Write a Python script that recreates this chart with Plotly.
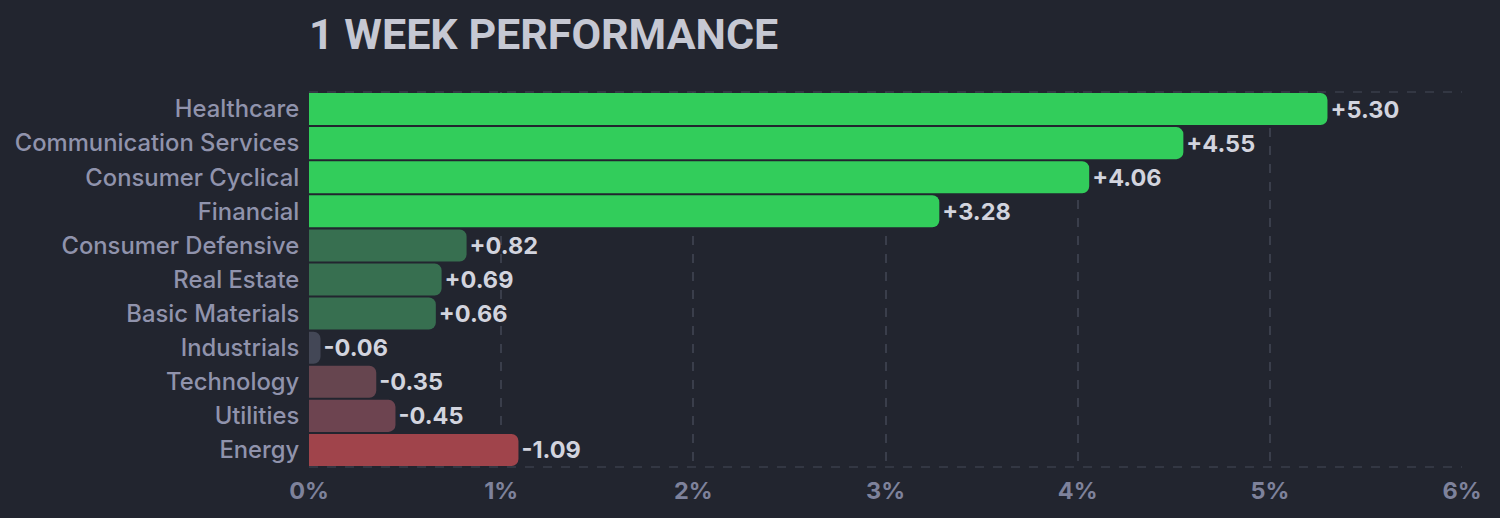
import plotly.graph_objects as go

# ---------------------------------------------------------------------------
# Data (1 week sector performance, %)
# ---------------------------------------------------------------------------
sectors = [
    "Healthcare", "Communication Services", "Consumer Cyclical", "Financial",
    "Consumer Defensive", "Real Estate", "Basic Materials", "Industrials",
    "Technology", "Utilities", "Energy",
]
changes = [5.30, 4.55, 4.06, 3.28, 0.82, 0.69, 0.66, -0.06, -0.35, -0.45, -1.09]
tick_vals = [0, 1, 2, 3, 4, 5, 6]
tick_text = ["0%", "1%", "2%", "3%", "4%", "5%", "6%"]

BG = "#22252f"
GRID = "#3a3e4b"
FONT = "Inter"


def bar_colour(v):
    # colour buckets, roughly like the finviz style
    if v >= 1:
        return "#32cd5b"
    if v >= 0.1:
        return "#376f50"
    if v > -0.1:
        return "#434756"
    if v > -1:
        return "#66454f" if v > -0.4 else "#6d4450"
    return "#a0444b"


lengths = [abs(v) for v in changes]
labels = [f"{v:+.2f}" for v in changes]
colours = [bar_colour(v) for v in changes]

fig = go.Figure(go.Bar(
    x=lengths,
    y=sectors,
    orientation="h",
    marker=dict(color=colours, cornerradius=7, line=dict(width=0)),
    text=labels,
    textposition="outside",
    textfont=dict(family=FONT, size=23.5, color="#d2d4de", weight="bold"),
    cliponaxis=False,
    hoverinfo="skip",
))

fig.update_layout(
    width=1500, height=518,
    paper_bgcolor=BG, plot_bgcolor=BG,
    margin=dict(l=309, r=38, t=92, b=51),
    bargap=0.06,
    showlegend=False,
    title=dict(
        text="<b>1 WEEK PERFORMANCE</b>",
        x=0, xanchor="left", xref="paper",
        y=1 - 34 / 518, yanchor="middle", yref="container",
        font=dict(family="Roboto", size=43, color="#c6c8d3"),
    ),
)

fig.update_xaxes(
    range=[0, 6],
    tickvals=tick_vals, ticktext=tick_text,
    showgrid=True, gridcolor=GRID, griddash="dash", gridwidth=1.5,
    zeroline=False,
    showline=False,
    tickfont=dict(family=FONT, size=23.5, color="#7e829b", weight="bold"),
    ticks="outside", ticklen=3, tickcolor="rgba(0,0,0,0)",
    fixedrange=True,
)

fig.update_yaxes(
    autorange="reversed",
    showgrid=False, zeroline=False,
    tickfont=dict(family=FONT, size=23.8, color="#9093ac", weight=500),
    ticks="outside", ticklen=4, tickcolor="rgba(0,0,0,0)",
    fixedrange=True,
)

# dashed frame lines (top and bottom)
for yy in (0, 1):
    fig.add_shape(type="line", xref="paper", yref="paper",
                  x0=0, x1=1, y0=yy, y1=yy,
                  line=dict(color=GRID, width=1.5, dash="dash"), layer="below")

fig.write_html(
    "out.html",
    config={"displayModeBar": False},
    post_script="document.body.style.margin='0';document.body.style.background='#22252f';",
)
